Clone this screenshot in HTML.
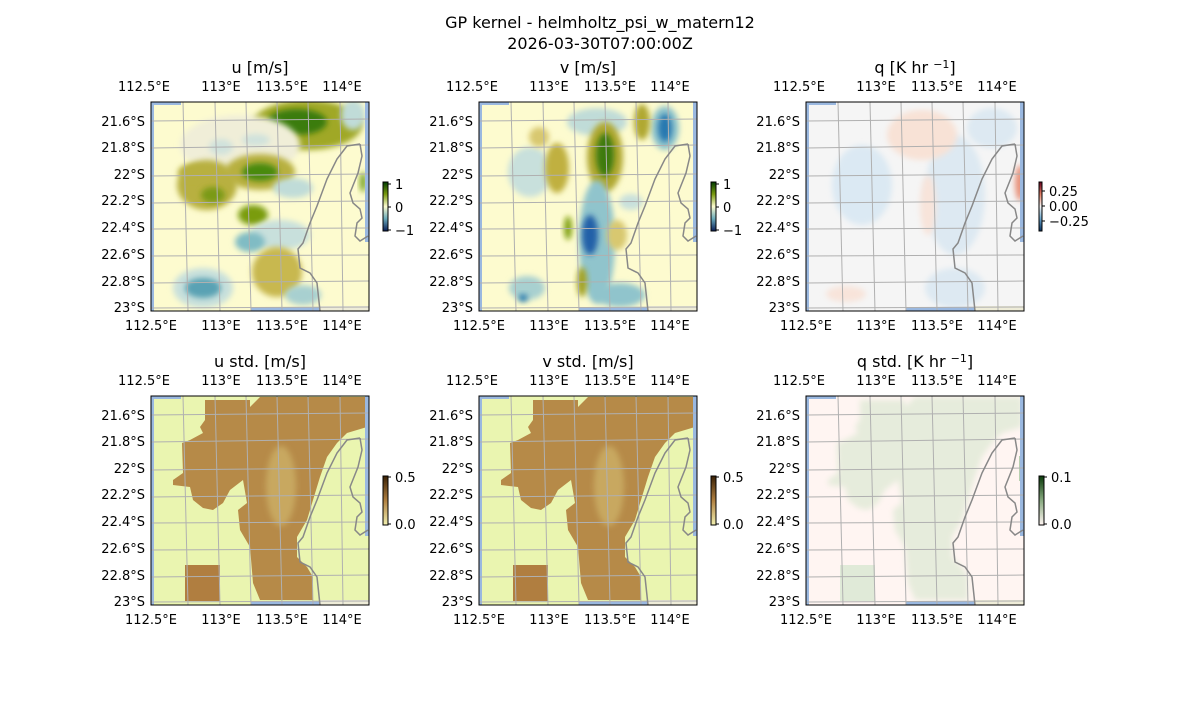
<!DOCTYPE html>
<html><head><meta charset="utf-8"><style>
body{margin:0;background:#fff}
svg text{font-family:"DejaVu Sans","Liberation Sans",sans-serif;}
</style></head><body>
<svg id="s" width="1200" height="700" xmlns="http://www.w3.org/2000/svg"></svg>
<script>
const S=document.getElementById('s');
let h='';
h+='<defs><filter id="b" x="-50%" y="-50%" width="200%" height="200%"><feGaussianBlur stdDeviation="3"/></filter>';
h+='<linearGradient id="g1" x1="0" y1="0" x2="0" y2="1"><stop offset="0" stop-color="#003c00"/><stop offset="0.25" stop-color="#7a9a10"/><stop offset="0.5" stop-color="#fdfcd0"/><stop offset="0.75" stop-color="#6aaabb"/><stop offset="1" stop-color="#081d58"/></linearGradient>';
h+='<linearGradient id="g3" x1="0" y1="0" x2="0" y2="1"><stop offset="0" stop-color="#67001f"/><stop offset="0.25" stop-color="#e48066"/><stop offset="0.5" stop-color="#f7f7f7"/><stop offset="0.75" stop-color="#6aa6cd"/><stop offset="1" stop-color="#053061"/></linearGradient>';
h+='<linearGradient id="g4" x1="0" y1="0" x2="0" y2="1"><stop offset="0" stop-color="#3a2005"/><stop offset="0.5" stop-color="#b08040"/><stop offset="1" stop-color="#f2f0b0"/></linearGradient>';
h+='<linearGradient id="g6" x1="0" y1="0" x2="0" y2="1"><stop offset="0" stop-color="#0a3a0a"/><stop offset="0.5" stop-color="#88aa80"/><stop offset="1" stop-color="#fff5f2"/></linearGradient>';
const W=218,H=209;
const PX=[151,479,806],PY=[102,396];
[0,1].forEach(r=>PX.forEach((x,c)=>{h+=`<clipPath id="c${r}${c}"><rect x="${x}" y="${PY[r]}" width="${W}" height="${H}"/></clipPath>`;}));
h+='</defs>';
const brown=[[54,4],[99,4],[99,11],[109,1],[216,1],[216,31],[196,37],[186,47],[176,61],[169,81],[162,104],[156,124],[146,141],[146,161],[156,171],[162,181],[162,204],[109,204],[102,187],[99,151],[89,134],[87,114],[96,107],[92,84],[79,94],[72,107],[62,114],[52,112],[42,104],[39,91],[22,89],[22,84],[32,77],[31,47],[39,44],[52,37],[49,31],[54,24]];
const coast=[[209,42],[196,44],[186,57],[176,77],[166,104],[159,121],[152,141],[147,147],[149,166],[159,171],[166,181],[169,209]];
const island=[[209,42],[211,54],[207,71],[199,91],[202,101],[209,107],[211,116],[206,121],[204,134],[209,139],[217,134]];
const B1=[[156,23,55,25,'#a0a828'],[146,20,30,13,'#3a7c10'],[89,43,60,30,'#f0eed8'],[70,45,12,8,'#d0e2dc'],[109,70,35,18,'#b8b040'],[109,70,18,9,'#4a8a10'],[56,83,30,25,'#b8b040'],[62,93,12,8,'#7a9a18'],[42,70,15,8,'#b8b040'],[102,113,15,10,'#7a9c10'],[129,133,30,15,'#c8e0dc'],[99,140,15,10,'#80bcc4'],[126,170,25,25,'#c8b850'],[52,186,30,20,'#c8e0dc'],[52,186,18,10,'#5aa2b4'],[152,193,18,10,'#a8d0d0'],[142,86,20,10,'#c0dcd8'],[202,13,12,15,'#c0dcd8'],[212,80,3,10,'#6a9a10'],[105,38,14,6,'#d0e2dc']];
const B2=[[118,20,30,14,'#c0dcd8'],[51,70,22,25,'#c8e0dc'],[78,66,12,25,'#c0b040'],[126,55,18,35,'#b0a830'],[126,53,9,22,'#3d7a10'],[118,140,18,62,'#90c4cc'],[111,133,8,20,'#2060a8'],[186,26,14,22,'#90c4cc'],[186,26,7,14,'#2878b0'],[163,20,8,18,'#b0a830'],[138,133,10,15,'#d8c870'],[48,186,18,12,'#a8d0d0'],[44,196,5,4,'#3080b0'],[103,180,5,15,'#a0a020'],[141,193,25,12,'#90c4cc'],[89,126,4,12,'#80a010'],[152,100,12,8,'#c8e0dc'],[60,35,10,10,'#d8c870']];
const B3=[[56,83,30,40,'#dbe9f3'],[149,93,30,60,'#dde9f2'],[186,26,25,20,'#dde9f2'],[149,186,30,20,'#dde9f2'],[116,33,35,25,'#f8e2d6'],[122,103,8,30,'#f8e4da'],[214,81,5,18,'#e89078'],[40,192,20,8,'#f8e4da']];
function pts(a,x,y){return a.map(p=>(p[0]+x)+','+(p[1]+y)).join(' ');}
function panel(r,c,bg,blobs,opt){
 const x=PX[c],y=PY[r];
 h+=`<g clip-path="url(#c${r}${c})"><rect x="${x}" y="${y}" width="${W}" height="${H}" fill="${bg}"/>`;
 if(opt==='brown'){h+=`<polygon points="${pts(brown,x,y)}" fill="#b68a48"/><rect x="${x+34}" y="${y+169}" width="35" height="36" fill="#b07e40"/><ellipse cx="${x+130}" cy="${y+90}" rx="15" ry="40" fill="#c8a860" filter="url(#b)"/>`;}
 if(opt==='green'){h+=`<polygon points="${pts(brown,x,y)}" fill="#e6ecdc" filter="url(#b)"/><rect x="${x+34}" y="${y+169}" width="35" height="36" fill="#e0ead8"/><rect x="${x+213}" y="${y+60}" width="5" height="25" fill="#b8d0b0"/>`;}
 (blobs||[]).forEach(b=>{h+=`<ellipse cx="${x+b[0]}" cy="${y+b[1]}" rx="${b[2]}" ry="${b[3]}" fill="${b[4]}" filter="url(#b)"/>`;});
 h+=`<rect x="${x+169}" y="${y+204}" width="50" height="6" fill="#eeecd8"/>`;
 h+=`<rect x="${x}" y="${y}" width="30" height="3" fill="#9ab8e0"/><rect x="${x}" y="${y}" width="3" height="${H}" fill="#9ab8e0"/><rect x="${x+214}" y="${y}" width="4" height="140" fill="#9ab8e0"/><rect x="${x+100}" y="${y+205}" width="69" height="4" fill="#9ab8e0"/>`;
 const vt=[32,64,95,126,157,189],vb=[37,69,100,131,162,192];
 vt.forEach((t,i)=>{h+=`<line x1="${x+t}" y1="${y}" x2="${x+vb[i]}" y2="${y+H}" stroke="#b0b0b0" stroke-width="1"/>`;});
 [[19,17],[46,43],[74,72],[101,99],[127,126],[154,153],[181,179],[206,205]].forEach(l=>{h+=`<line x1="${x}" y1="${y+l[0]}" x2="${x+W}" y2="${y+l[1]}" stroke="#b0b0b0" stroke-width="1"/>`;});
 h+=`<polyline points="${pts(coast,x,y)}" fill="none" stroke="#888" stroke-width="1.5"/><polyline points="${pts(island,x,y)}" fill="none" stroke="#888" stroke-width="1.5"/></g>`;
 h+=`<rect x="${x}" y="${y}" width="${W}" height="${H}" fill="none" stroke="#000" stroke-width="1"/>`;
 const lat=['21.6°S','21.8°S','22°S','22.2°S','22.4°S','22.6°S','22.8°S','23°S'],ly=[19,45,72,98,125,152,179,205];
 lat.forEach((t,i)=>{h+=`<text x="${x-6}" y="${y+ly[i]+5}" font-size="13" text-anchor="end">${t}</text>`;});
 const lon=['112.5°E','113°E','113.5°E','114°E'],lxt=[-7,70,131,191],lxb=[0,70,131,191];
 lon.forEach((t,i)=>{h+=`<text x="${x+lxt[i]}" y="${y-11}" font-size="13" text-anchor="middle">${t}</text><text x="${x+lxb[i]}" y="${y+H+19}" font-size="13" text-anchor="middle">${t}</text>`;});
}
panel(0,0,'#fdfbcf',B1);panel(0,1,'#fdfbcf',B2);panel(0,2,'#f5f5f5',B3);
panel(1,0,'#eaf5b0',[],'brown');panel(1,1,'#eaf5b0',[],'brown');panel(1,2,'#fff5f2',[],'green');
function cbar(x,y,g,labels,w){
 h+=`<rect x="${x}" y="${y}" width="${w}" height="49" fill="url(#${g})" stroke="#000" stroke-width="1"/>`;
 labels.forEach(l=>{h+=`<line x1="${x+w}" y1="${y+l[1]}" x2="${x+w+3}" y2="${y+l[1]}" stroke="#000"/><text x="${x+w+7}" y="${y+l[1]+5}" font-size="13">${l[0]}</text>`;});
}
cbar(383,182,'g1',[['1',2],['0',25],['−1',48]],5);
cbar(711,182,'g1',[['1',2],['0',25],['−1',48]],5);
cbar(1039,182,'g3',[['0.25',9],['0.00',24],['−0.25',39]],3);
cbar(383,476,'g4',[['0.5',1],['0.0',48]],5);
cbar(711,476,'g4',[['0.5',1],['0.0',48]],5);
cbar(1039,476,'g6',[['0.1',1],['0.0',48]],5);
const tt=[['u [m/s]',260,73],['v [m/s]',588,73],['q [K hr <tspan dy="-5" font-size="11">−1</tspan><tspan dy="5">]</tspan>',915,73],['u std. [m/s]',260,367],['v std. [m/s]',588,367],['q std. [K hr <tspan dy="-5" font-size="11">−1</tspan><tspan dy="5">]</tspan>',915,367]];
tt.forEach(t=>{h+=`<text x="${t[1]}" y="${t[2]}" font-size="16" text-anchor="middle">${t[0]}</text>`;});
h+='<text x="600" y="28" font-size="16" text-anchor="middle">GP kernel - helmholtz_psi_w_matern12</text><text x="600" y="49" font-size="16" text-anchor="middle">2026-03-30T07:00:00Z</text>';
S.innerHTML=h;
</script>
</body></html>
